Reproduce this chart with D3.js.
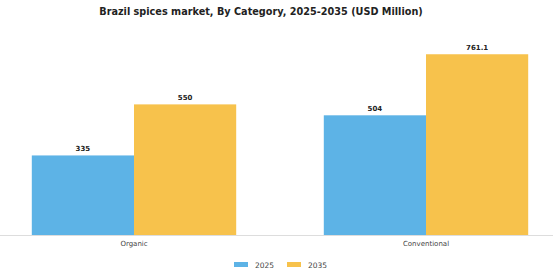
<!DOCTYPE html>
<html><head><meta charset="utf-8">
<script src="https://cdn.jsdelivr.net/npm/d3@7"></script>
<style>body{margin:0;background:#fff}svg{display:block}</style>
</head><body>
<svg id="c" width="560" height="280"></svg>
<script>
const categories = ["Organic", "Conventional"];
const seriesNames = ["2025", "2035"];
const values2025 = [335, 504];
const values2035 = [550, 761.1];
const valueLabels2025 = ["335", "504"];
const valueLabels2035 = ["550", "761.1"];
const colors = ["#5DB3E6", "#F7C24C"];

const svg = d3.select("#c");
const font = "DejaVu Sans, sans-serif";
const base = 235;

const x = d3.scaleBand().domain(categories).range([-12, 572]).paddingInner(0.3).paddingOuter(0.15);
const xs = d3.scaleBand().domain(seriesNames).range([0, x.bandwidth()]);
const y = d3.scaleLinear().domain([0, 799.2]).range([base, 45.2]);

svg.append("text").attr("x", 261).attr("y", 15).attr("text-anchor", "middle")
  .attr("font-family", font).attr("font-weight", "bold").attr("font-size", 9.7).attr("fill", "#222")
  .text("Brazil spices market, By Category, 2025-2035 (USD Million)");

svg.append("line").attr("x1", 0).attr("x2", 553).attr("y1", base + 0.5).attr("y2", base + 0.5)
  .attr("stroke", "#ddd").attr("stroke-width", 1);

const series = [
  {name: seriesNames[0], vals: values2025, labels: valueLabels2025, color: colors[0]},
  {name: seriesNames[1], vals: values2035, labels: valueLabels2035, color: colors[1]}
];

series.forEach(s => {
  const g = svg.append("g");
  g.selectAll("rect").data(categories).join("rect")
    .attr("x", (c) => x(c) + xs(s.name))
    .attr("width", xs.bandwidth())
    .attr("y", (c, i) => y(s.vals[i]))
    .attr("height", (c, i) => base - y(s.vals[i]))
    .attr("fill", s.color);
  g.selectAll("text").data(categories).join("text")
    .attr("x", (c) => x(c) + xs(s.name) + xs.bandwidth() / 2)
    .attr("y", (c, i) => y(s.vals[i]) - 4)
    .attr("text-anchor", "middle").attr("font-family", font).attr("font-weight", "bold")
    .attr("font-size", 7).attr("fill", "#222")
    .text((c, i) => s.labels[i]);
});

const xAxis = svg.append("g").attr("transform", `translate(0,${base})`)
  .call(d3.axisBottom(x).tickSize(0).tickPadding(6));
xAxis.select(".domain").remove();
xAxis.selectAll("text").attr("font-family", font).attr("font-size", 7).attr("fill", "#444");

const legend = svg.append("g");
const lx = [234, 287];
series.forEach((s, i) => {
  legend.append("rect").attr("x", lx[i]).attr("y", 262).attr("width", 14).attr("height", 5).attr("fill", s.color);
  legend.append("text").attr("x", lx[i] + 21).attr("y", 267.5).attr("font-family", font)
    .attr("font-size", 7.5).attr("fill", "#444").text(s.name);
});
</script>
</body></html>
